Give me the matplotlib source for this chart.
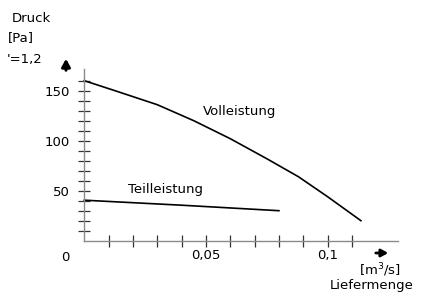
import matplotlib
matplotlib.use("Agg")
import matplotlib.pyplot as plt
from matplotlib.ticker import FixedLocator

# data
voll_x = [0.0, 0.012, 0.030, 0.045, 0.060, 0.075, 0.088, 0.100, 0.1137]
voll_y = [160, 150.5, 136, 120, 102, 82, 64, 44, 20]
teil_x = [0.0, 0.040, 0.080]
teil_y = [40.5, 35.5, 30]
yticks_major = [50, 100, 150]
ytick_labels = ["50", "100", "150"]
yticks_minor = list(range(10, 170, 10))
xticks_major = [0.05, 0.1]
xtick_labels = ["0,05", "0,1"]
xticks_minor = [i / 100 for i in range(1, 12)]

W, H = 421, 301
fig = plt.figure(figsize=(W / 100, H / 100), dpi=100)
ax = fig.add_axes([0, 0, 1, 1])
x0px, y0px, sx = 84.3, 240.7, 2433.0
ax.set_xlim(-x0px / sx, (W - x0px) / sx)
ax.set_ylim(y0px - H, y0px)
ax.patch.set_visible(False)

for s in ["top", "right"]:
    ax.spines[s].set_visible(False)
ax.spines["left"].set_position(("data", 0))
ax.spines["bottom"].set_position(("data", 0))
ax.spines["left"].set_bounds(0, 172)
ax.spines["bottom"].set_bounds(0, (398 - x0px) / sx)
for s in ["left", "bottom"]:
    ax.spines[s].set_color("#8a8a8a")
    ax.spines[s].set_linewidth(1.0)

fs = 9.5
ax.yaxis.set_major_locator(FixedLocator(yticks_major))
ax.set_yticklabels(ytick_labels)
ax.yaxis.set_minor_locator(FixedLocator([v for v in yticks_minor if v not in yticks_major]))
ax.xaxis.set_major_locator(FixedLocator(xticks_major))
ax.set_xticklabels(xtick_labels)
ax.xaxis.set_minor_locator(FixedLocator([v for v in xticks_minor if v not in xticks_major]))
for axis in (ax.xaxis, ax.yaxis):
    axis.set_tick_params(which="both", direction="inout", length=8.5, width=0.9, color="#333333")
ax.tick_params(axis="y", which="major", pad=6, labelsize=fs)
ax.tick_params(axis="x", which="major", pad=1.5, labelsize=fs)

ax.plot(voll_x, voll_y, color="black", lw=1.2, solid_joinstyle="round")
ax.plot(teil_x, teil_y, color="black", lw=1.2)


def px(xp, yp):
    return ((xp - x0px) / sx, y0px - yp)


ax.text(*px(240, 112), "Volleistung", fontsize=fs, ha="center", va="center")
ax.text(*px(165, 190), "Teilleistung", fontsize=fs, ha="center", va="center")

ax.annotate("0", xy=(0, 0), xytext=(-19, -16.5), textcoords="offset pixels",
            fontsize=fs, ha="center", va="center")

fig.text(12 / W, 1 - 19 / H, "Druck", fontsize=fs, ha="left", va="center")
fig.text(8 / W, 1 - 38 / H, "[Pa]", fontsize=fs, ha="left", va="center")
fig.text(7 / W, 1 - 60 / H, "'=1,2", fontsize=fs, ha="left", va="center")
fig.text(401 / W, 1 - 270 / H, "[m$^3$/s]", fontsize=fs, ha="right", va="center")
fig.text(414 / W, 1 - 285 / H, "Liefermenge", fontsize=fs, ha="right", va="center")

# arrows
ax.annotate("", xy=px(66, 56), xytext=px(66, 73),
            arrowprops=dict(arrowstyle="-|>,head_width=0.25,head_length=0.45", color="black", lw=2.2))
ax.annotate("", xy=px(391, 253), xytext=px(373, 253),
            arrowprops=dict(arrowstyle="-|>,head_width=0.22,head_length=0.4", color="black", lw=2.0))

fig.savefig("out.png", dpi=100, facecolor="white")
